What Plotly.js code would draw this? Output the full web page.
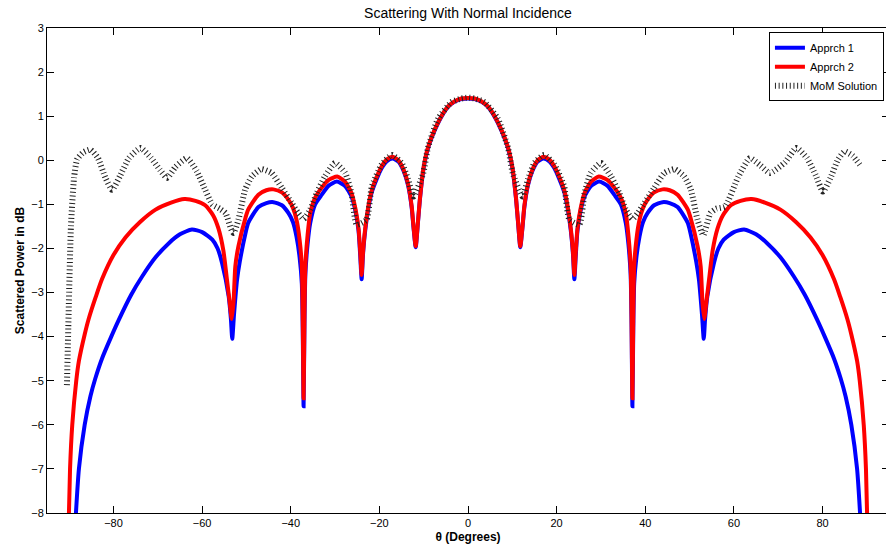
<!DOCTYPE html>
<html>
<head>
<meta charset="utf-8">
<script src="https://cdn.plot.ly/plotly-3.0.1.min.js"></script>
<style>
html,body{margin:0;padding:0;overflow:hidden;background:#fff;}
#chart{width:892px;height:550px;}
</style>
</head>
<body>
<div id="chart"></div>
<script>
// ---- data ----
var thetaA1 = [-88.7,-87.8,-86.5,-85.2,-84.1,-82.6,-80.5,-78.8,-76,-73.5,-70.5,-67.5,-65,-62.3,-60,-57.7,-56.5,-55.5,-54.0,-53.5,-53.2,-52.8,-52.1,-51.5,-50.2,-49.6,-47.3,-45.5,-43.9,-42,-40.5,-39.5,-38.7,-38,-37.5,-37.3,-37.1,-36.9,-36.7,-36.2,-35.6,-34.5,-33,-31.5,-29.6,-27.8,-26.3,-25.4,-24.7,-24.3,-24.0,-23.7,-23.2,-22.5,-21.7,-20.5,-19.5,-18.3,-17.0,-15.7,-14.5,-13.5,-12.7,-12.3,-11.8,-11.3,-10.8,-10.0,-9.0,-7.5,-6,-4.5,-3,-1.5,0,
  1.5,3,4.5,6,7.5,9.0,10.0,10.8,11.3,11.8,12.3,12.7,13.5,14.5,15.7,17.0,18.3,19.5,20.5,21.7,22.5,23.2,23.7,24.0,24.3,24.7,25.4,26.3,27.8,29.6,31.5,33,34.5,35.6,36.2,36.7,36.9,37.1,37.3,37.5,38,38.7,39.5,40.5,42,43.9,45.5,47.3,49.6,50.2,51.5,52.1,52.8,53.2,53.5,54.0,55.5,56.5,57.7,60,62.3,65,67.5,70.5,73.5,76,78.8,80.5,82.6,84.1,85.2,86.5,87.8,88.7];
var apprch1 = [-8.4,-7.0,-6.0,-5.35,-4.95,-4.5,-4.0,-3.62,-3.05,-2.63,-2.2,-1.88,-1.68,-1.57,-1.63,-1.80,-2.0,-2.33,-3.09,-3.6,-4.05,-3.5,-2.7,-2.3,-1.65,-1.42,-1.06,-0.97,-0.95,-1.02,-1.2,-1.4,-1.73,-2.2,-2.8,-3.8,-5.58,-3.7,-2.6,-1.9,-1.42,-1.0,-0.78,-0.58,-0.48,-0.58,-0.82,-1.15,-1.6,-2.2,-2.7,-2.15,-1.6,-1.1,-0.72,-0.4,-0.18,-0.02,0.04,-0.03,-0.25,-0.58,-1.08,-1.52,-1.97,-1.42,-0.84,-0.17,0.28,0.68,0.99,1.21,1.33,1.39,1.40,
  1.39,1.33,1.21,0.99,0.68,0.28,-0.17,-0.84,-1.42,-1.97,-1.52,-1.08,-0.58,-0.25,-0.03,0.04,-0.02,-0.18,-0.4,-0.72,-1.1,-1.6,-2.15,-2.7,-2.2,-1.6,-1.15,-0.82,-0.58,-0.48,-0.58,-0.78,-1.0,-1.42,-1.9,-2.6,-3.7,-5.58,-3.8,-2.8,-2.2,-1.73,-1.4,-1.2,-1.02,-0.95,-0.97,-1.06,-1.42,-1.65,-2.3,-2.7,-3.5,-4.05,-3.6,-3.09,-2.33,-2.0,-1.80,-1.63,-1.57,-1.68,-1.88,-2.2,-2.63,-3.05,-3.62,-4.0,-4.5,-4.95,-5.35,-6.0,-7.0,-8.4];

var thetaA2 = [-90.2,-89.8,-89.3,-88.4,-87.8,-86.5,-85.6,-84,-82.6,-80,-77.3,-74,-70.5,-67,-64,-61.5,-59.3,-57.5,-56.3,-55.2,-54.4,-53.8,-53.3,-52.9,-52.5,-51.8,-50.2,-49.6,-47.3,-45.5,-43.9,-42,-40.5,-39.5,-38.7,-38,-37.5,-37.3,-37.1,-36.9,-36.7,-36.2,-35.6,-34.5,-33,-31.5,-29.5,-27.8,-26.3,-25.4,-24.7,-24.3,-24.0,-23.7,-23.2,-22.5,-21.7,-20.5,-19.5,-18.3,-17.0,-15.7,-14.5,-13.5,-12.7,-12.3,-11.8,-11.3,-10.8,-10.0,-9.0,-7.5,-6,-4.5,-3,-1.5,0,
  1.5,3,4.5,6,7.5,9.0,10.0,10.8,11.3,11.8,12.3,12.7,13.5,14.5,15.7,17.0,18.3,19.5,20.5,21.7,22.5,23.2,23.7,24.0,24.3,24.7,25.4,26.3,27.8,29.5,31.5,33,34.5,35.6,36.2,36.7,36.9,37.1,37.3,37.5,38,38.7,39.5,40.5,42,43.9,45.5,47.3,49.6,50.2,51.8,52.5,52.9,53.3,53.8,54.4,55.2,56.3,57.5,59.3,61.5,64,67,70.5,74,77.3,80,82.6,84,85.6,86.5,87.8,88.4,89.3,89.8,90.2];
var apprch2 = [-8.6,-7.0,-6.0,-5.0,-4.55,-3.95,-3.6,-3.1,-2.7,-2.15,-1.75,-1.4,-1.12,-0.96,-0.88,-0.92,-1.02,-1.25,-1.55,-2.05,-2.7,-3.2,-3.6,-3.2,-2.4,-1.95,-1.3,-1.12,-0.78,-0.68,-0.66,-0.73,-0.9,-1.08,-1.35,-1.8,-2.4,-3.5,-5.4,-3.5,-2.4,-1.7,-1.2,-0.85,-0.62,-0.45,-0.37,-0.48,-0.74,-1.1,-1.55,-2.1,-2.6,-2.1,-1.55,-1.05,-0.67,-0.35,-0.14,0.02,0.08,0.0,-0.22,-0.55,-1.05,-1.5,-1.95,-1.4,-0.82,-0.15,0.3,0.7,1.0,1.22,1.34,1.40,1.41,
  1.40,1.34,1.22,1.0,0.7,0.3,-0.15,-0.82,-1.4,-1.95,-1.5,-1.05,-0.55,-0.22,0.0,0.08,0.02,-0.14,-0.35,-0.67,-1.05,-1.55,-2.1,-2.6,-2.1,-1.55,-1.1,-0.74,-0.48,-0.37,-0.45,-0.62,-0.85,-1.2,-1.7,-2.4,-3.5,-5.4,-3.5,-2.4,-1.8,-1.35,-1.08,-0.9,-0.73,-0.66,-0.68,-0.78,-1.12,-1.3,-1.95,-2.4,-3.2,-3.6,-3.2,-2.7,-2.05,-1.55,-1.25,-1.02,-0.92,-0.88,-0.96,-1.12,-1.4,-1.75,-2.15,-2.7,-3.1,-3.6,-3.95,-4.55,-5.0,-6.0,-7.0,-8.6];

var thetaMoM = [-90.5,-90.2,-89.6,-88.9,-88.2,-86.8,-85.2,-83.5,-81.8,-80.3,-78.5,-76.5,-73.9,-71.5,-69.5,-67.9,-66.0,-63.4,-61.2,-59.3,-57.7,-56,-54.7,-53.5,-52.9,-51.8,-50.3,-48.8,-46.6,-44.3,-42.0,-39.8,-38.3,-37.1,-35.6,-34.1,-32.3,-30.0,-27.7,-26.3,-25.1,-22.9,-21.7,-19.5,-17.2,-15.0,-13.5,-12.3,-10.1,-9,-6.7,-3.7,-1.5,0,
  1.5,3.7,6.7,9,10.1,12.3,13.5,15.0,17.2,19.5,21.7,22.9,25.1,26.3,27.7,30.0,32.3,34.1,35.6,37.1,38.3,39.8,42.0,44.3,46.6,48.8,50.3,51.8,53.1,54.7,56,58,61,63.6,66,68.1,71.5,74.1,76.5,78.5,80.1,81.8,83.5,85.0,86.8,88.4];
var mom = [-5.1,-3.8,-1.5,-0.4,0.02,0.18,0.24,0.05,-0.4,-0.67,-0.35,0.05,0.28,0.05,-0.22,-0.40,-0.15,0.05,-0.25,-0.67,-1.0,-1.1,-1.2,-1.55,-1.65,-1.35,-0.67,-0.37,-0.2,-0.29,-0.63,-0.97,-1.2,-1.33,-1.12,-0.74,-0.37,-0.06,-0.29,-0.75,-1.46,-1.35,-0.6,-0.1,0.12,-0.06,-0.44,-0.82,-0.29,0.3,0.95,1.32,1.40,1.42,
  1.40,1.32,0.95,0.3,-0.29,-0.82,-0.44,-0.06,0.12,-0.1,-0.6,-1.35,-1.46,-0.75,-0.29,-0.06,-0.37,-0.74,-1.12,-1.33,-1.2,-0.97,-0.63,-0.29,-0.2,-0.37,-0.67,-1.35,-1.7,-1.2,-1.1,-1.05,-0.37,0.05,-0.12,-0.29,-0.05,0.28,0.05,-0.35,-0.71,-0.4,0.02,0.2,0.1,-0.1];

var xTicks = [-80,-60,-40,-20,0,20,40,60,80];
var yTicks = [-8,-7,-6,-5,-4,-3,-2,-1,0,1,2,3];

var FONT = 'Liberation Sans, Arial, Helvetica, sans-serif';

var traces = [
  {x: thetaA1, y: apprch1, name: 'Apprch 1', mode: 'lines', type: 'scatter',
   line: {color: '#0000ff', width: 4, shape: 'spline', smoothing: 0.6}},
  {x: thetaA2, y: apprch2, name: 'Apprch 2', mode: 'lines', type: 'scatter',
   line: {color: '#ff0000', width: 4, shape: 'spline', smoothing: 0.6}},
  {x: thetaMoM, y: mom, name: 'MoM Solution', mode: 'lines', type: 'scatter',
   line: {color: '#222222', width: 6, dash: '1px,2.7px', shape: 'spline', smoothing: 0.5}}
];

var axisCommon = {
  showgrid: false, zeroline: false, showline: true, linecolor: '#000', linewidth: 1,
  mirror: 'ticks', ticks: 'inside', ticklen: 7, tickwidth: 1, tickcolor: '#000',
  tickfont: {family: FONT, size: 11, color: '#000'}
};

var layout = {
  width: 892, height: 550,
  margin: {l: 47, r: 3, t: 28, b: 37, pad: 0},
  paper_bgcolor: '#fff', plot_bgcolor: '#fff',
  font: {family: FONT, color: '#000'},
  title: {text: 'Scattering With Normal Incidence', x: 0.5, xref: 'paper', xanchor: 'center',
          y: 0.985, yref: 'container', yanchor: 'top',
          font: {family: FONT, size: 14, color: '#000'}},
  xaxis: Object.assign({}, axisCommon, {
    range: [-95, 95], tickvals: xTicks,
    title: {text: '<b>θ (Degrees)</b>', font: {family: FONT, size: 12, color: '#000'}, standoff: 4}
  }),
  yaxis: Object.assign({}, axisCommon, {
    range: [-8, 3], tickvals: yTicks,
    title: {text: '<b>Scattered Power in dB</b>', font: {family: FONT, size: 12, color: '#000'}, standoff: 4}
  }),
  showlegend: true,
  legend: {x: 0.994, xanchor: 'right', y: 0.991, yanchor: 'top',
           bgcolor: '#fff', bordercolor: '#000', borderwidth: 1,
           font: {family: FONT, size: 11, color: '#000'}, tracegroupgap: 0, itemwidth: 30}
};

Plotly.newPlot('chart', traces, layout, {displayModeBar: false, staticPlot: true});
</script>
</body>
</html>
